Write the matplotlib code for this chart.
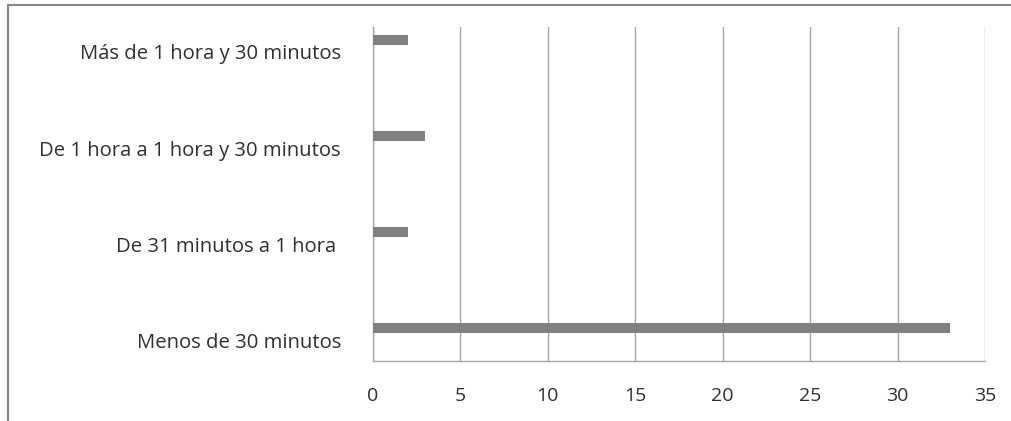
import matplotlib
matplotlib.use("Agg")
import matplotlib.pyplot as plt
from matplotlib.patches import Rectangle

categories = ["Menos de 30 minutos", "De 31 minutos a 1 hora ", "De 1 hora a 1 hora y 30 minutos", "Más de 1 hora y 30 minutos"]
values = [33, 2, 3, 2]
xticks = [0, 5, 10, 15, 20, 25, 30, 35]

plt.rcParams['font.family'] = ['Open Sans', 'DejaVu Sans']

W, H = 1011, 421
fig = plt.figure(figsize=(W / 100, H / 100), dpi=100)
fig.patch.set_facecolor('white')

# outer chart frame (cropped at right/bottom)
fig.patches.append(Rectangle((8 / W, -0.1), 1.2, (H - 5) / H + 0.1, transform=fig.transFigure,
                             fill=False, edgecolor='#868686', linewidth=1.5))

left, right, top, bottom = 373, 985, 27, 361
ax = fig.add_axes([left / W, (H - bottom) / H, (right - left) / W, (bottom - top) / H])

pos = list(range(len(categories)))
ax.barh(pos, values, height=0.105, color='#808080', zorder=3)

ax.set_xlim(0, 35)
ax.set_ylim(-0.34, 3.135)
ax.set_xticks(xticks)
ax.set_xticklabels([str(t) for t in xticks])
ax.set_yticks([p - 0.125 for p in pos])
ax.set_yticklabels(categories)

ax.grid(axis='x', color='#a6a6a6', linewidth=1.0, zorder=0)
ax.grid(axis='y', visible=False)
for s in ['top', 'right']:
    ax.spines[s].set_visible(False)
ax.spines['left'].set_color('#a6a6a6')
ax.spines['bottom'].set_color('#a6a6a6')
ax.spines['left'].set_linewidth(1.0)
ax.spines['bottom'].set_linewidth(1.0)
ax.tick_params(axis='both', length=0, labelcolor='#303030')
ax.tick_params(axis='y', pad=23, labelsize=14.6)
ax.tick_params(axis='x', pad=19, labelsize=14)

fig.savefig('out.png', dpi=100)
